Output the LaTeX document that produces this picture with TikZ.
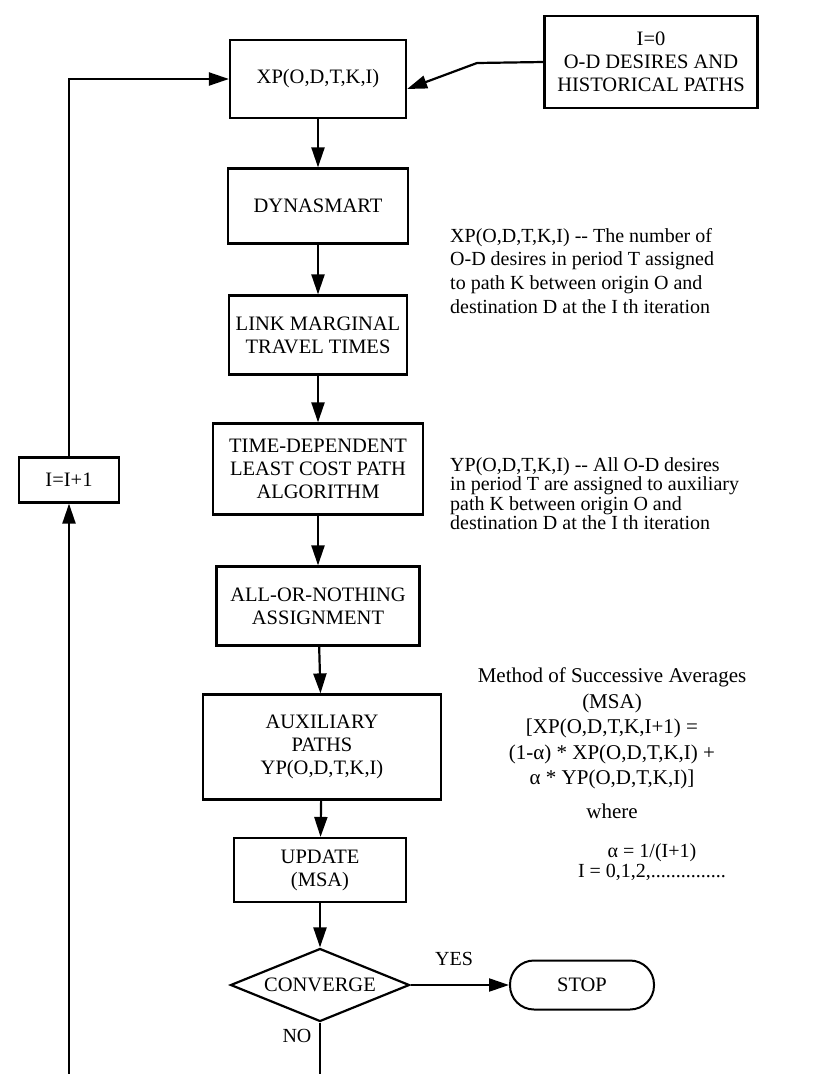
\documentclass[tikz,border=0pt]{standalone}
\usepackage{fontspec}
\setmainfont{Liberation Serif}
\usetikzlibrary{arrows.meta,shapes.geometric}

\begin{document}
\begin{tikzpicture}[x=1pt,y=-1pt]
\tikzset{
  flowbox/.style={rectangle,draw=black,line width=2.2pt,inner sep=1pt,align=center,font=\fontsize{20.5}{23}\selectfont},
  decision/.style={diamond,draw=black,line width=2.2pt,inner sep=0pt,aspect=2.45,minimum width=179pt,minimum height=73pt,font=\fontsize{20.5}{23}\selectfont},
  terminal/.style={rectangle,rounded corners=24pt,draw=black,line width=2pt,minimum width=144pt,minimum height=49pt,font=\fontsize{20.5}{23}\selectfont},
  notetext/.style={inner sep=0pt,font=\fontsize{20}{24}\selectfont},
  flowedge/.style={draw=black,line width=2.2pt,line join=miter},
  directed/.style={flowedge,-{Triangle[length=20pt,width=13pt]}},
  undirected/.style={flowedge}
}
\useasboundingbox[fill=white] (0,0) rectangle (815,1074);
\node[flowbox,minimum width=176pt,minimum height=78pt] (n_XP) at (318,79) {XP(O,D,T,K,I)};
\node[flowbox,minimum width=213pt,minimum height=92pt] (n_I0) at (651,62) {I=0\\O-D DESIRES AND\\HISTORICAL PATHS};
\node[flowbox,minimum width=180pt,minimum height=75pt] (n_DYN) at (318,206) {DYNASMART};
\node[flowbox,minimum width=178pt,minimum height=79pt] (n_LINK) at (318,335) {LINK MARGINAL\\TRAVEL TIMES};
\node[flowbox,minimum width=210pt,minimum height=91pt] (n_TIME) at (318,469) {TIME-DEPENDENT\\LEAST COST PATH\\ALGORITHM};
\node[flowbox,minimum width=100pt,minimum height=45pt] (n_I1) at (69,480) {I=I+1};
\node[flowbox,minimum width=203pt,minimum height=79pt] (n_ALL) at (318,606) {ALL-OR-NOTHING\\ASSIGNMENT};
\node[flowbox,minimum width=238pt,minimum height=105pt] (n_AUX) at (322,747) {AUXILIARY\\PATHS\\YP(O,D,T,K,I)};
\node[flowbox,minimum width=172pt,minimum height=64pt] (n_UPD) at (320,870) {UPDATE\\(MSA)};
\node[decision] (n_CONV) at (320,985) {CONVERGE};
\node[terminal] (n_STOP) at (582,985) {STOP};
\node[notetext,anchor=north west,align=left,font=\fontsize{20}{23.7}\selectfont] (t_XP) at (450,228)
  {XP(O,D,T,K,I) -{}- The number of\\O-D desires in period T assigned\\to path K between origin O and\\destination D at the I th iteration};
\node[notetext,anchor=north west,align=left,font=\fontsize{20}{19.5}\selectfont] (t_YP) at (450,457)
  {YP(O,D,T,K,I) -{}- All O-D desires\\in period T are assigned to auxiliary\\path K between origin O and\\destination D at the I th iteration};
\node[notetext,anchor=north,align=center,font=\fontsize{21}{25.5}\selectfont] (t_MSA) at (612,668)
  {Method of Successive Averages\\(MSA)\\{}[XP(O,D,T,K,I+1) =\\(1-α) * XP(O,D,T,K,I) +\\α * YP(O,D,T,K,I)]\\[8pt]where};
\node[notetext,anchor=north,align=center,font=\fontsize{20}{20}\selectfont] (t_ALPHA) at (652,843)
  {α = 1/(I+1)\\I = 0,1,2,...............};
\node[notetext] (t_YES) at (454,959) {YES};
\node[notetext] (t_NO) at (297,1036) {NO};
\coordinate (c_bend) at (477,63);
\coordinate (c_loop) at (69,1074);
\coordinate (c_no) at (320,1074);
\draw[directed] (n_I0.west) -- (c_bend) -- ([yshift=-10pt]n_XP.east);
\draw[directed] (n_XP) -- (n_DYN);
\draw[directed] (n_DYN) -- (n_LINK);
\draw[directed] (n_LINK) -- (n_TIME);
\draw[directed] (n_TIME) -- (n_ALL);
\draw[directed] (n_ALL) -- (n_AUX);
\draw[directed] (n_AUX) -- (n_UPD);
\draw[directed] (n_UPD) -- (n_CONV);
\draw[directed] (n_CONV) -- (n_STOP);
\draw[undirected] (n_CONV) -- (c_no);
\draw[directed] (c_loop) -- (n_I1);
\draw[directed] (n_I1) |- (n_XP);
\end{tikzpicture}
\end{document}
